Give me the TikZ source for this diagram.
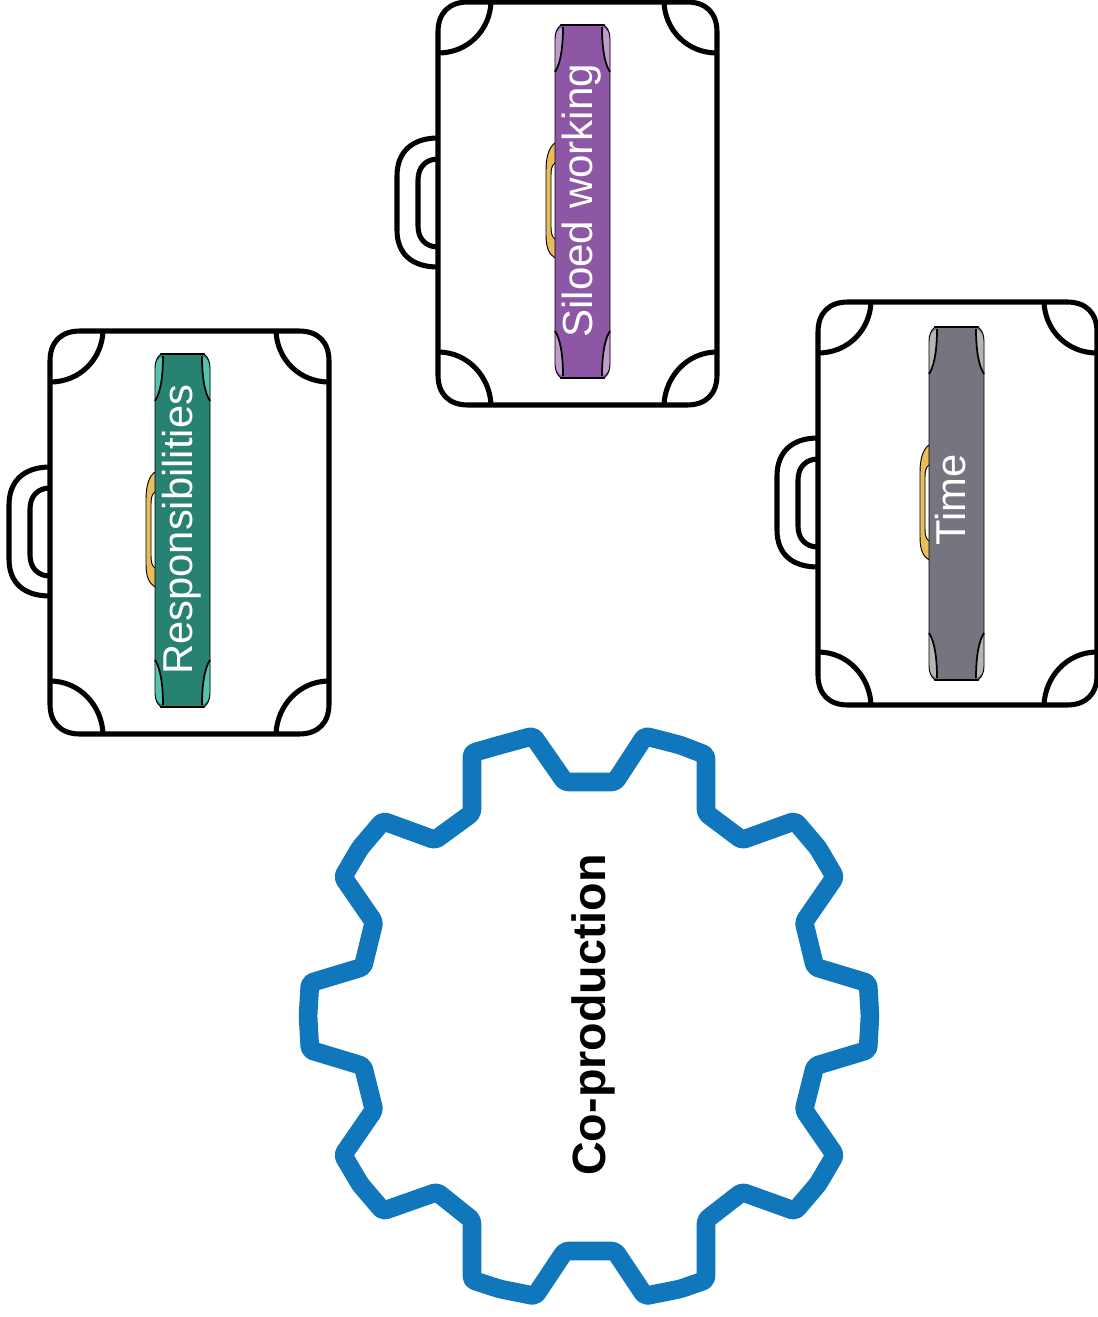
\documentclass[tikz,border=0pt]{standalone}
\usepackage{fontspec}
\setmainfont{Liberation Sans}
\definecolor{gearblue}{HTML}{1077BD}
\definecolor{band}{HTML}{E9BE5A}
\definecolor{purpleA}{HTML}{8E57A6}
\definecolor{purpleB}{HTML}{BF9CCB}
\definecolor{greenA}{HTML}{288272}
\definecolor{greenB}{HTML}{54C4AE}
\definecolor{greyA}{HTML}{76747F}
\definecolor{greyB}{HTML}{B5B5B8}
\tikzset{
  caseline/.style={draw=black,line width=3.8pt,line join=round},
  thinline/.style={draw=black,line width=0.7pt},
  curveline/.style={draw=black,line width=1.3pt},
  capline/.style={draw=black,line width=2pt,line cap=round},
  striplabel/.style={rotate=90,anchor=base west,inner sep=0pt,text=white},
  gearline/.style={draw=gearblue,line width=14pt,line join=round,rounded corners=2.5pt},
}
% #1,#2 case top-left; #3,#4 strap top-left; #5 dark; #6 light
\newcommand{\suitcase}[6]{%
  \begin{scope}[shift={(#1,#2)}]
    \draw[caseline,fill=white] (30,0) -- (249,0) .. controls (268,0) and (279,11) .. (279,30) -- (279,373) .. controls (279,392) and (268,403) .. (249,403) -- (30,403) .. controls (11,403) and (0,392) .. (0,373) -- (0,30) .. controls (0,11) and (11,0) .. (30,0) -- cycle;
    \draw[caseline] (0,51) .. controls (30,51) and (52,28) .. (53,0);
    \draw[caseline] (279,51) .. controls (249,51) and (227,28) .. (226,0);
    \draw[caseline] (0,350) .. controls (30,350) and (52,375) .. (53,403);
    \draw[caseline] (279,350) .. controls (249,350) and (227,375) .. (226,403);
    \draw[caseline] (0,136) .. controls (-26,136) and (-41,150) .. (-41,174) -- (-41,228) .. controls (-41,252) and (-26,265) .. (0,265);
    \draw[caseline] (0,157) .. controls (-12,157) and (-20,165) .. (-20,178) -- (-20,224) .. controls (-20,237) and (-12,245) .. (0,245);
  \end{scope}
  \begin{scope}[shift={(#3,#4)}]
    % small handle
    \path[fill=band] (0,118) .. controls (-6,122) and (-9,132) .. (-9,145) -- (-9,210) .. controls (-9,223) and (-6,229) .. (0,233) -- (0,214) .. controls (-3,212) and (-4,208) .. (-4,202) -- (-4,150) .. controls (-4,144) and (-3,140) .. (0,138) -- cycle;
    \draw[thinline] (0,118) .. controls (-6,122) and (-9,132) .. (-9,145) -- (-9,210) .. controls (-9,223) and (-6,229) .. (0,233);
    \draw[thinline] (0,214) .. controls (-3,212) and (-4,208) .. (-4,202) -- (-4,150) .. controls (-4,144) and (-3,140) .. (0,138);
    % strap
    \path[fill=#5] (6,0) -- (49,0) .. controls (53,3) and (55,8) .. (55,14) -- (55,339) .. controls (55,345) and (53,350) .. (49,353) -- (6,353) .. controls (2,350) and (0,345) .. (0,339) -- (0,14) .. controls (0,8) and (2,3) .. (6,0) -- cycle;
    \path[fill=#6] (8,2) .. controls (3,4) and (0,9) .. (0,14) -- (0,47) .. controls (6,38) and (8,20) .. (8,2) -- cycle;
    \path[fill=#6] (47,2) .. controls (52,4) and (55,9) .. (55,14) -- (55,47) .. controls (49,38) and (47,20) .. (47,2) -- cycle;
    \path[fill=#6] (8,351) .. controls (3,349) and (0,344) .. (0,339) -- (0,306) .. controls (6,315) and (8,333) .. (8,351) -- cycle;
    \path[fill=#6] (47,351) .. controls (52,349) and (55,344) .. (55,339) -- (55,306) .. controls (49,315) and (47,333) .. (47,351) -- cycle;
    \draw[thinline] (6,0) .. controls (2,3) and (0,8) .. (0,14) -- (0,339) .. controls (0,345) and (2,350) .. (6,353);
    \draw[thinline] (49,0) .. controls (53,3) and (55,8) .. (55,14) -- (55,339) .. controls (55,345) and (53,350) .. (49,353);
    \draw[capline] (6,0) -- (49,0);
    \draw[capline] (6,353) -- (49,353);
    \draw[curveline] (8,2) .. controls (8,20) and (6,38) .. (0,47);
    \draw[curveline] (47,2) .. controls (47,20) and (49,38) .. (55,47);
    \draw[curveline] (8,351) .. controls (8,333) and (6,315) .. (0,306);
    \draw[curveline] (47,351) .. controls (47,333) and (49,315) .. (55,306);
  \end{scope}%
}
\begin{document}
\begin{tikzpicture}[x=0.75pt,y=-0.75pt]
  \useasboundingbox (0,0) rectangle (1097,1317);
  \suitcase{438}{2}{555}{25}{purpleA}{purpleB}
  \suitcase{50}{331}{155}{354}{greenA}{greenB}
  \suitcase{818}{302}{929}{327}{greyA}{greyB}
  \node[striplabel,font=\fontsize{31.6pt}{36pt}\selectfont] (siloed) at (592,338) {Siloed working};
  \node[striplabel,font=\fontsize{31.3pt}{36pt}\selectfont] (resp) at (192,675) {Responsibilities};
  \node[striplabel,font=\fontsize{31.3pt}{36pt}\selectfont] (time) at (965,546) {Time};
  \draw[gearline] (565,782) -- (615,782) -- (645,736) -- (680,745) -- (706,755) -- (706,813) -- (742,840) -- (795,821) -- (818,848) -- (835,877) -- (804,922) -- (815,967) -- (868,983) -- (870,1016) -- (868,1050) -- (815,1066) -- (804,1110) -- (835,1155) -- (818,1184) -- (795,1211) -- (742,1192) -- (706,1220) -- (706,1280) -- (680,1289) -- (645,1296) -- (615,1251) -- (565,1251) -- (535,1296) -- (500,1289) -- (472,1280) -- (472,1220) -- (437,1192) -- (383,1211) -- (360,1184) -- (343,1155) -- (374,1110) -- (363,1066) -- (310,1050) -- (308,1016) -- (310,983) -- (363,967) -- (374,922) -- (343,877) -- (360,848) -- (383,821) -- (435,840) -- (472,813) -- (472,753) -- (500,745) -- (533,736) -- cycle;
  \node[rotate=90,anchor=base,inner sep=0pt,font=\fontsize{35pt}{38pt}\selectfont\bfseries,text=black] (gearlabel) at (605,1015) {Co-production};
\end{tikzpicture}
\end{document}
